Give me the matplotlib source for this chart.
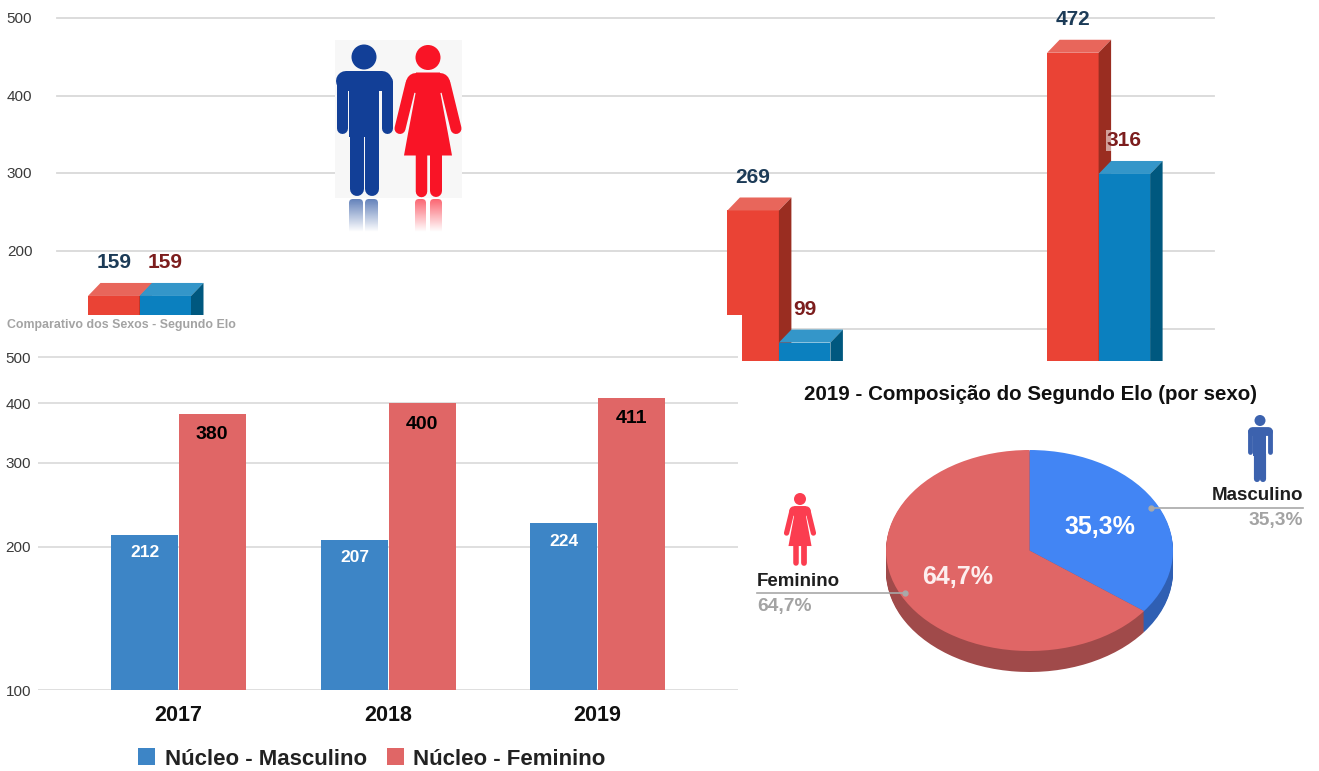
"""
plot.py — Comparativo dos sexos / Segundo Elo (collage of three charts).
"""

import numpy as np

import matplotlib
matplotlib.use("Agg")
import matplotlib.pyplot as plt
from matplotlib.patches import Rectangle, FancyBboxPatch

plt.rcParams["font.family"] = ["Liberation Sans", "DejaVu Sans"]

W, H = 1319, 771

# ── Data ──────────────────────────────────────────────────────────
top_ticks = [100, 200, 300, 400, 500]
top_tick_labels = ["", "200", "300", "400", "500"]   # the 100 label is cut away in the picture
top_groups = [0, 2, 3]              # group 1 has no bars in the picture
top_red = [159, 269, 472]
top_blue = [159, 99, 316]

bottom_ticks = [100, 200, 300, 400, 500]
years = ["2017", "2018", "2019"]
nucleo_masculino = [212, 207, 224]
nucleo_feminino = [380, 400, 411]

pie_labels = ["Masculino", "Feminino"]
pie_values = [35.3, 64.7]
pie_text = ["35,3%", "64,7%"]

subtitle = "Comparativo dos Sexos - Segundo Elo"
pie_title = "2019 - Composição do Segundo Elo (por sexo)"

TICK_COLOR = "#3a3a3a"
GRID_COLOR = "#d9d9d9"
NAVY = "#1c3b57"
WINE = "#7c1d1d"


def axes_px(fig, x0, y0, x1, y1, zorder):
    """Axes placed with pixel coordinates measured from the top left."""
    return fig.add_axes([x0 / W, 1 - y1 / H, (x1 - x0) / W, (y1 - y0) / H], zorder=zorder)


def bar_3d(ax, x, value, width, dx, dy, front, top, side):
    """Front face plus top and side faces; the back top edge sits on the value."""
    y = value - dy
    ax.bar(x, y, width, align="edge", color=front, linewidth=0, zorder=3)
    ax.fill([x, x + dx, x + width + dx, x + width], [y, value, value, y], color=top, lw=0, zorder=3)
    ax.fill([x + width, x + width + dx, x + width + dx, x + width], [y, value, 0, 0], color=side, lw=0, zorder=3)


def person(ax, cx, cy, s, color, female=False):
    """Toilet-sign figure; units are px of the big icon, head centre at (0, 0)."""
    px = 0.72 * s  # px -> points, scaled
    def limb(xs, ys, w):
        ax.plot([cx + v * s for v in xs], [cy + v * s for v in ys], color=color,
                lw=w * px, solid_capstyle="round", zorder=5)

    ax.add_patch(plt.Circle((cx, cy), 12.5 * s, color=color, lw=0, zorder=5))
    if female:
        limb([-12, 12], [25, 25], 20)
        limb([-17, -28], [26, 71], 11)
        limb([17, 28], [26, 71], 11)
        dress = np.array([(-12, 15), (12, 15), (12.5, 36), (20, 76), (24, 98),
                          (-24, 98), (-20, 76), (-12.5, 36)], dtype=float)
        ax.fill(cx + dress[:, 0] * s, cy + dress[:, 1] * s, color=color, lw=0, zorder=5)
        limb([-7.5, -7.5], [95, 133], 11.5)
        limb([8, 8], [95, 133], 12)
    else:
        limb([-18, 18], [24, 24], 20)
        limb([-22.5, -22.5], [24, 71], 11)
        limb([22.5, 22.5], [24, 71], 11)
        ax.add_patch(Rectangle((cx - 15 * s, cy + 25 * s), 29.5 * s, 55 * s, color=color, lw=0, zorder=5))
        limb([-7.5, -7.5], [75, 132], 14)
        limb([7.5, 7.5], [75, 132], 14)


def reflection(ax, x0, x1, y0, y1, rgb):
    """Fading mirrored leg under the big icon."""
    grad = np.zeros((64, 2, 4))
    grad[:, :, :3] = rgb
    grad[:, :, 3] = np.linspace(0.65, 0.0, 64)[:, None]
    img = ax.imshow(grad, extent=(x0, x1, y1, y0), origin="upper", aspect="auto", zorder=5)
    clip = FancyBboxPatch((x0 + 4, y0 + 4), x1 - x0 - 8, y1 - y0, boxstyle="round,pad=4",
                          facecolor="none", edgecolor="none", transform=ax.transData)
    ax.add_patch(clip)
    img.set_clip_path(clip)


fig = plt.figure(figsize=(W / 100, H / 100), dpi=100, facecolor="white")

# ── Top chart: 3D bars, cut off at the bottom by the panel below ──
ax_top = axes_px(fig, 0, 10, W, 361, 1)
px_per_unit = 0.777
ax_top.set_ylim(500 - 343 / px_per_unit, 500 + 8 / px_per_unit)
group_px = 319.7
ax_top.set_xlim(-139.5 / group_px, (W - 139.5) / group_px)
bar_w = 51.5 / group_px
dx, dy = 12.5 / group_px, 13 / px_per_unit

for g, r, b in zip(top_groups, top_red, top_blue):
    bar_3d(ax_top, g - bar_w, r, bar_w, dx, dy, "#ea4335", "#e8665b", "#9a2d21")
    bar_3d(ax_top, g, b, bar_w, dx, dy, "#0b80bf", "#3496c9", "#00587f")
    ax_top.annotate(str(r), (g - bar_w / 2, r), xytext=(0, 14.5), textcoords="offset points",
                    ha="center", va="center", color=NAVY, fontsize=15, fontweight="bold", zorder=6)
    ax_top.annotate(str(b), (g + bar_w / 2, b), xytext=(0, 14.5), textcoords="offset points",
                    ha="center", va="center", color=WINE, fontsize=15, fontweight="bold", zorder=6,
                    bbox=dict(boxstyle="square,pad=0.05", fc="white", ec="none", alpha=0.55))

for v, lab in zip(top_ticks, top_tick_labels):
    ax_top.plot([(57 - 139.5) / group_px, (1214 - 139.5) / group_px], [v, v],
                color=GRID_COLOR, lw=1.3, zorder=1)
    if lab:
        ax_top.annotate(lab, (-139.5 / group_px + 19.5 / group_px, v), xytext=(0, -0.7),
                        textcoords="offset points", ha="center", va="center",
                        color=TICK_COLOR, fontsize=11)
ax_top.axis("off")

# ── White panel hiding the lower left of the top chart ────────────
ax_panel = axes_px(fig, 0, 315, 742, H, 2)
ax_panel.set_facecolor("white")
ax_panel.set_xticks([])
ax_panel.set_yticks([])
for sp in ax_panel.spines.values():
    sp.set_visible(False)

# ── Bottom left: grouped bars on a log axis ───────────────────────
ax_bot = axes_px(fig, 38, 350, 738, 690, 3)
ax_bot.patch.set_alpha(0)
ax_bot.set_yscale("log")
decade_px = 476.0
ax_bot.set_ylim(100, 100 * 10 ** (340 / decade_px))
ax_bot.set_xlim(-0.67, 2.67)
x = np.arange(len(years))
w = 0.32
bars_m = ax_bot.bar(x - w / 2 - 0.002, nucleo_masculino, w, color="#3d85c6", linewidth=0, zorder=3,
                    label="Núcleo - Masculino")
bars_f = ax_bot.bar(x + w / 2 + 0.004, nucleo_feminino, w, color="#e06666", linewidth=0, zorder=3,
                    label="Núcleo - Feminino")
for xi, v in zip(x - w / 2, nucleo_masculino):
    ax_bot.annotate(str(v), (xi, v), xytext=(0, -13), textcoords="offset points", ha="center",
                    va="center", color="white", fontsize=12.5, fontweight="bold", zorder=4)
for xi, v in zip(x + w / 2, nucleo_feminino):
    ax_bot.annotate(str(v), (xi, v), xytext=(0, -15), textcoords="offset points", ha="center",
                    va="center", color="black", fontsize=14, fontweight="bold", zorder=4)

ax_bot.set_yticks(bottom_ticks)
ax_bot.set_yticklabels([str(v) for v in bottom_ticks], color=TICK_COLOR, fontsize=11)
ax_bot.minorticks_off()
ax_bot.tick_params(axis="y", length=0, pad=5)
ax_bot.set_xticks(x)
ax_bot.set_xticklabels(years, fontsize=15.5, fontweight="bold", color="#111111")
ax_bot.tick_params(axis="x", length=0, pad=11)
ax_bot.grid(axis="y", color=GRID_COLOR, lw=1.2, zorder=0)
for sp in ax_bot.spines.values():
    sp.set_visible(False)
ax_bot.legend(handles=[bars_m, bars_f], loc="center", bbox_to_anchor=(372 / W, 1 - 759 / H),
              bbox_transform=fig.transFigure, ncol=2, frameon=False,
              prop={"weight": "bold", "size": 16}, handlelength=0.77, handleheight=0.77,
              handletextpad=0.42, columnspacing=0.9, labelcolor="#222222")

# ── Bottom right: pie with a fake 3D rim ──────────────────────────
ax_pie = axes_px(fig, 880, 440, 1180, 680, 3)
ax_pie.patch.set_alpha(0)
rx, ry = 143.5, 100.5
for d in np.arange(21, 0, -1):
    ax_pie.pie(pie_values, colors=["#2f5fb3", "#a04a4a"], startangle=90, counterclock=False,
               center=(0, -d / ry), radius=1, wedgeprops={"linewidth": 0})
ax_pie.pie(pie_values, colors=["#4285f4", "#e06666"], startangle=90, counterclock=False,
           center=(0, 0), radius=1, wedgeprops={"linewidth": 0})
ax_pie.set_aspect("auto")
ax_pie.set_xlim(-(1029.5 - 880) / rx, (1180 - 1029.5) / rx)
ax_pie.set_ylim(-(680 - 550.5) / ry, (550.5 - 440) / ry)
ax_pie.axis("off")

# ── Overlay in pixels: icons and loose texts ──────────────────────
ov = axes_px(fig, 0, 0, W, H, 4)
ov.patch.set_alpha(0)
ov.axis("off")

ov.add_patch(Rectangle((335, 40), 127, 158, color="#f7f7f7", lw=0, zorder=4))
person(ov, 364, 57, 1.0, "#123f97")
person(ov, 428, 57.5, 1.0, "#f91426", female=True)
for a, b in [(349, 363), (365, 378)]:
    reflection(ov, a, b, 199, 232, (0.07, 0.25, 0.59))
for a, b in [(415, 426), (430, 442)]:
    reflection(ov, a, b, 199, 232, (0.98, 0.08, 0.15))
person(ov, 1260, 420.5, 0.44, "#3c62ae")
person(ov, 800, 499, 0.48, "#fb3d50", female=True)

ov.text(7, 325, subtitle, ha="left", va="center", color="#a3a3a3", fontsize=8.95, fontweight="bold")
ov.text(1030, 394.5, pie_title, ha="center", va="center", color="#111111", fontsize=14.8, fontweight="bold")

ov.text(1100, 527, pie_text[0], ha="center", va="center", color="white", fontsize=18, fontweight="bold")
ov.text(958, 577, pie_text[1], ha="center", va="center", color="#fdeeee", fontsize=18, fontweight="bold")

ov.plot([1151, 1303], [507.5, 507.5], color="#a8a8a8", lw=1.2, zorder=3)
ov.plot([905, 757], [593, 593], color="#a8a8a8", lw=1.2, zorder=3)
ov.plot([1151, 905], [507.5, 593], ls="none", marker="o", ms=3.5, color="#a9a9a9", zorder=3)
ov.text(1303, 495.5, pie_labels[0], ha="right", va="center", color="#1f1f1f", fontsize=13.5, fontweight="bold")
ov.text(1303, 521, pie_text[0], ha="right", va="center", color="#a3a3a3", fontsize=13.8, fontweight="bold")
ov.text(757, 581, pie_labels[1], ha="left", va="center", color="#1f1f1f", fontsize=13.5, fontweight="bold")
ov.text(757, 607, pie_text[1], ha="left", va="center", color="#a3a3a3", fontsize=13.8, fontweight="bold")

ov.set_xlim(0, W)
ov.set_ylim(H, 0)

fig.savefig("out.png", dpi=100)
